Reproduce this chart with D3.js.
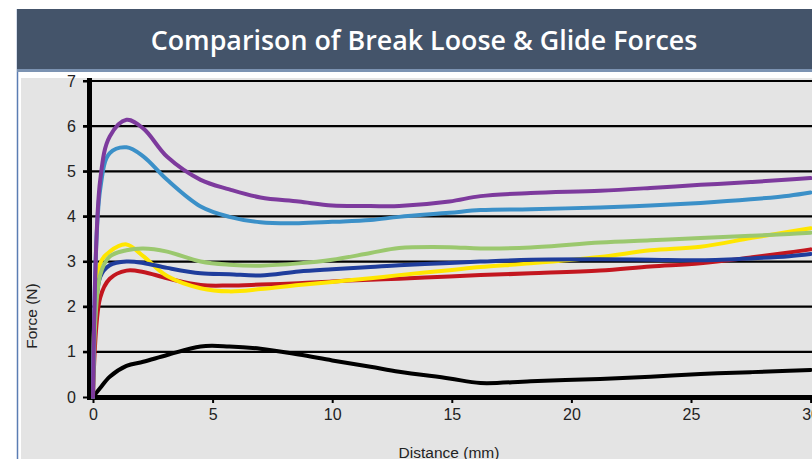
<!DOCTYPE html>
<html>
<head>
<meta charset="utf-8">
<script src="https://cdn.jsdelivr.net/npm/d3@7"></script>
<style>
  body { margin: 0; background: #fff; }
  svg { display: block; }
</style>
</head>
<body>
<svg width="812" height="459"></svg>
<script>
// Data
const distance = [0, 0.3, 0.7, 1.4, 2.1, 3.1, 4.5, 5.7, 7, 8.6, 10, 11.6, 12.8, 14.9, 16.2, 18.3, 21.2, 23.3, 25.4, 27.5, 29.1, 30];

const black  = [0, 0.2, 0.45, 0.69, 0.78, 0.93, 1.12, 1.12, 1.07, 0.94, 0.81, 0.67, 0.56, 0.41, 0.31, 0.35, 0.4, 0.45, 0.51, 0.55, 0.58, 0.6];
const red    = [0, 2.2, 2.62, 2.8, 2.77, 2.63, 2.48, 2.47, 2.49, 2.52, 2.56, 2.6, 2.62, 2.67, 2.7, 2.74, 2.8, 2.89, 2.96, 3.09, 3.2, 3.27];
const navy   = [0, 2.66, 2.92, 3.0, 2.97, 2.86, 2.74, 2.72, 2.69, 2.78, 2.83, 2.88, 2.92, 2.97, 3.0, 3.04, 3.05, 3.04, 3.03, 3.07, 3.12, 3.17];
const yellow = [0, 2.95, 3.22, 3.38, 3.12, 2.68, 2.41, 2.34, 2.39, 2.48, 2.55, 2.63, 2.7, 2.81, 2.88, 2.96, 3.1, 3.25, 3.33, 3.52, 3.66, 3.74];
const green  = [0, 2.7, 3.11, 3.25, 3.29, 3.22, 3.0, 2.93, 2.91, 2.96, 3.04, 3.19, 3.3, 3.32, 3.29, 3.31, 3.42, 3.47, 3.52, 3.57, 3.61, 3.64];
const lblue  = [0, 4.6, 5.4, 5.53, 5.33, 4.81, 4.22, 3.99, 3.87, 3.85, 3.88, 3.92, 3.99, 4.08, 4.14, 4.16, 4.2, 4.24, 4.3, 4.38, 4.46, 4.53];
const purple = [0, 4.8, 5.77, 6.14, 5.95, 5.32, 4.81, 4.6, 4.42, 4.33, 4.24, 4.23, 4.23, 4.33, 4.45, 4.52, 4.57, 4.63, 4.7, 4.76, 4.82, 4.85];

const xTicks = [0, 5, 10, 15, 20, 25, 30];
const yTicks = [0, 1, 2, 3, 4, 5, 6, 7];

const series = [
  { values: black,  color: "#000000" },
  { values: red,    color: "#c3161f" },
  { values: yellow, color: "#ffe600" },
  { values: navy,   color: "#1f3d9c" },
  { values: green,  color: "#9bc86e" },
  { values: lblue,  color: "#3b90c8" },
  { values: purple, color: "#7d3a9d" }
];

const width = 812, height = 459;
const svg = d3.select("svg");

// Rahmen + Titelbalken
svg.append("rect").attr("x", 21).attr("y", 78).attr("width", width - 21).attr("height", height - 78).attr("fill", "#e4e4e4");
svg.append("line").attr("x1", 17.5).attr("x2", 17.5).attr("y1", 9).attr("y2", height)
  .attr("stroke", "#5b7db3").attr("stroke-width", 1.5);
svg.append("rect").attr("x", 17).attr("y", 9).attr("width", width - 17).attr("height", 61).attr("fill", "#44546a");
svg.append("rect").attr("x", 17).attr("y", 69).attr("width", width - 17).attr("height", 3).attr("fill", "#7c93b2");

const title = svg.append("text")
  .attr("x", 424).attr("y", 50)
  .attr("text-anchor", "middle")
  .attr("fill", "#fff")
  .style("font-family", "'Open Sans', sans-serif")
  .style("font-weight", "600")
  .style("font-size", "24px")
  .text("Comparison of Break Loose & Glide Forces");
// auf Originalbreite bringen
const tw = title.node().getComputedTextLength();
title.style("font-size", (24 * 547 / tw) + "px");

// Skalen
const x = d3.scaleLinear().domain([0, 30]).range([93, 810.6]);
const y = d3.scaleLinear().domain([0, 7]).range([397, 81]);

// Gitterlinien
svg.append("g").selectAll("line")
  .data(yTicks.filter(d => d > 0))
  .join("line")
  .attr("x1", 83).attr("x2", width)
  .attr("y1", d => y(d)).attr("y2", d => y(d))
  .attr("stroke", "#000").attr("stroke-width", 2.2);

// Y-Achse
const yAxis = svg.append("g")
  .attr("transform", "translate(88,0)")
  .call(d3.axisLeft(y).tickValues(yTicks).tickSize(5).tickPadding(7).tickFormat(d3.format("d")));
yAxis.select(".domain").remove();
yAxis.selectAll("line").attr("stroke", "#000").attr("stroke-width", 2);
yAxis.selectAll("text").attr("fill", "#222").style("font-family", "'Liberation Sans', Arial, sans-serif").style("font-size", "16px");

// X-Achse
const xAxis = svg.append("g")
  .attr("transform", "translate(0,398)")
  .call(d3.axisBottom(x).tickValues(xTicks).tickSize(5).tickPadding(6));
xAxis.select(".domain").remove();
xAxis.selectAll("line").attr("stroke", "#000").attr("stroke-width", 2);
xAxis.selectAll("text").attr("fill", "#222").style("font-family", "'Liberation Sans', Arial, sans-serif").style("font-size", "16px");

// dicke Achsenlinien
svg.append("line").attr("x1", 89.5).attr("x2", 89.5).attr("y1", 78).attr("y2", 400)
  .attr("stroke", "#000").attr("stroke-width", 5);
svg.append("line").attr("x1", 87).attr("x2", width).attr("y1", 397.5).attr("y2", 397.5)
  .attr("stroke", "#000").attr("stroke-width", 5);

// Linien
const line = d3.line()
  .x((d, i) => x(distance[i]))
  .y(d => y(d))
  .curve(d3.curveCatmullRom.alpha(0.5));

svg.append("g").selectAll("path")
  .data(series)
  .join("path")
  .attr("d", s => line(s.values))
  .attr("fill", "none")
  .attr("stroke", s => s.color)
  .attr("stroke-width", 4)
  .attr("stroke-linejoin", "round")
  .attr("stroke-linecap", "round");

// Achsentitel
svg.append("text")
  .attr("x", 449).attr("y", 458)
  .attr("text-anchor", "middle")
  .attr("fill", "#222")
  .style("font-family", "'Liberation Sans', Arial, sans-serif")
  .style("font-size", "15.5px")
  .text("Distance (mm)");

svg.append("text")
  .attr("transform", "translate(37,316) rotate(-90)")
  .attr("text-anchor", "middle")
  .attr("fill", "#222")
  .style("font-family", "'Liberation Sans', Arial, sans-serif")
  .style("font-size", "15.5px")
  .text("Force (N)");
</script>
</body>
</html>
